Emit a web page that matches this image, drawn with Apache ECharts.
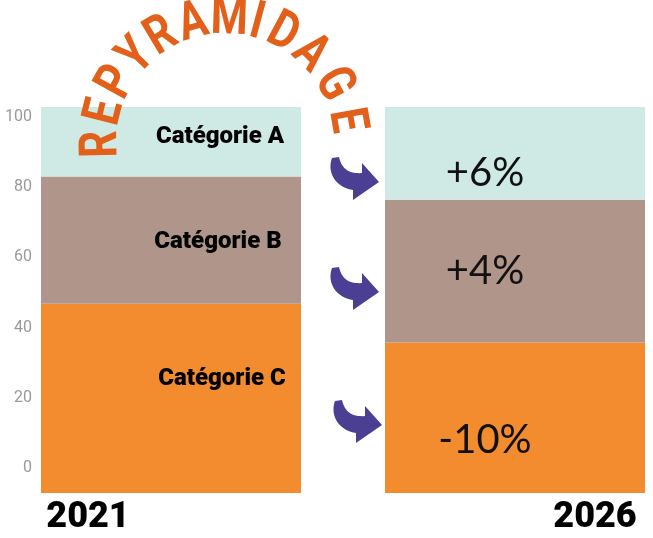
<!DOCTYPE html>
<html>
<head>
<meta charset="utf-8">
<script src="https://cdn.jsdelivr.net/npm/echarts@6/dist/echarts.min.js"></script>
<style>
html,body{margin:0;padding:0;background:#fff;}
#chart{width:653px;height:538px;}
</style>
</head>
<body>
<div id="chart"></div>
<script>
// ---- data ----
const years = ['2021', '2026'];
const categoryNames = ['Catégorie C', 'Catégorie B', 'Catégorie A'];
const valuesC = [49, 39];
const valuesB = [33, 37];
const valuesA = [18, 24];
const changeLabels = ['-10%', '+4%', '+6%'];   // C, B, A
const yTickMin = 0, yTickMax = 100, yTickStep = 20;
const titleText = 'REPYRAMIDAGE';

// ---- styles ----
const colors = ['#f38b2f', '#b0968a', '#cfe9e4'];
const bandLabelStyle = { fontFamily: 'Roboto', fontWeight: 900, fontSize: 24, color: '#000' };
const changeLabelStyle = { fontFamily: 'Lato', fontWeight: 400, fontSize: 40, color: '#111' };
const offsets2021 = [[51, -19], [47, 2], [49, -5]];
const offsets2026 = [[-30, 22], [-30, 0], [-30, 20]];

const chart = echarts.init(document.getElementById('chart'), null, { renderer: 'canvas' });

function buildSeries(idx, values) {
  return {
    name: categoryNames[idx],
    type: 'bar',
    stack: 'total',
    barWidth: 260,
    clip: false,
    xAxisIndex: 0,
    yAxisIndex: 0,
    itemStyle: { color: colors[idx] },
    label: { show: true, position: 'inside' },
    data: values.map((v, i) => ({
      value: v,
      label: i === 0
        ? Object.assign({ formatter: categoryNames[idx], offset: offsets2021[idx] }, bandLabelStyle)
        : Object.assign({ formatter: changeLabels[idx], offset: offsets2026[idx] }, changeLabelStyle)
    }))
  };
}

// arc title letters
const arcCx = 225, arcCy = 142, arcR = 122;
const letterAngles = [-181, -166, -151, -136, -121, -105, -88, -75, -62, -46, -28, -10];
const titleGraphics = titleText.split('').map((ch, i) => {
  const a = letterAngles[i] * Math.PI / 180;
  return {
    type: 'text',
    z: 100,
    x: arcCx + arcR * Math.cos(a),
    y: arcCy + arcR * Math.sin(a),
    rotation: -(a + Math.PI / 2),
    scaleX: 0.8,
    style: {
      text: ch,
      fill: '#e2601a',
      fontFamily: 'Roboto',
      fontWeight: 'bold',
      fontSize: 53,
      textAlign: 'center',
      textVerticalAlign: 'middle',
      align: 'center',
      verticalAlign: 'middle'
    }
  };
});

// curved arrow outline (local coords), sampled into a polygon
function bez(p0, p1, p2, p3, n) {
  const out = [];
  for (let k = 1; k <= n; k++) {
    const t = k / n, u = 1 - t;
    out.push([
      u*u*u*p0[0] + 3*u*u*t*p1[0] + 3*u*t*t*p2[0] + t*t*t*p3[0],
      u*u*u*p0[1] + 3*u*u*t*p1[1] + 3*u*t*t*p2[1] + t*t*t*p3[1]
    ]);
  }
  return out;
}
function arrowShape(ox, oy) {
  let pts = [[2, 1]];
  pts = pts.concat(bez([2, 1], [-3, 14], [4, 30], [23, 33], 14));
  pts.push([23, 43], [49, 25], [32, 6], [32, 16]);
  pts = pts.concat(bez([32, 16], [20, 17], [12, 13], [9, 0], 14));
  return pts.map(p => [p[0] + ox, p[1] + oy]);
}
const arrowPositions = [[330, 157], [330, 267], [333, 400]];
const arrowGraphics = arrowPositions.map(p => ({
  type: 'polygon',
  z: 100,
  shape: { points: arrowShape(p[0], p[1]) },
  style: { fill: '#4b3f93' }
}));

const option = {
  animation: false,
  backgroundColor: '#fff',
  grid: [
    { left: 171, right: 138, top: 107, bottom: 45 },
    { left: 40, right: 400, top: 117, bottom: 70 }
  ],
  xAxis: [
    {
      type: 'category',
      gridIndex: 0,
      boundaryGap: false,
      data: [
        { value: years[0], textStyle: { padding: [0, 166, 0, 0] } },
        { value: years[1], textStyle: { padding: [0, 0, 0, 160] } }
      ],
      axisLine: { show: false },
      axisTick: { show: false },
      axisLabel: {
        interval: 0,
        margin: 7,
        fontFamily: 'Roboto',
        fontWeight: 900,
        fontSize: 36,
        color: '#000'
      }
    },
    { type: 'value', gridIndex: 1, show: false }
  ],
  yAxis: [
    { type: 'value', gridIndex: 0, min: yTickMin, max: yTickMax, show: false },
    {
      type: 'value',
      gridIndex: 1,
      min: yTickMin,
      max: yTickMax,
      interval: yTickStep,
      axisLine: { show: false },
      axisTick: { show: false },
      splitLine: { show: false },
      axisLabel: { color: '#9a9a9a', fontSize: 16, margin: 8, fontFamily: 'Roboto' }
    }
  ],
  series: [
    buildSeries(0, valuesC),
    buildSeries(1, valuesB),
    buildSeries(2, valuesA)
  ],
  graphic: titleGraphics.concat(arrowGraphics)
};

chart.setOption(option);
</script>
</body>
</html>
